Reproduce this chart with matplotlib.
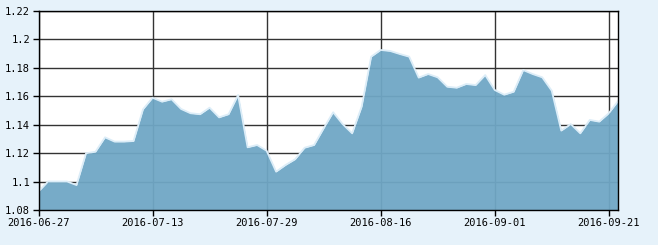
import matplotlib
matplotlib.use("Agg")
import matplotlib.pyplot as plt

dates = [
    "2016-06-27", "2016-06-28", "2016-06-29", "2016-06-30",
    "2016-07-01", "2016-07-04", "2016-07-05", "2016-07-06", "2016-07-07", "2016-07-08",
    "2016-07-11", "2016-07-12", "2016-07-13", "2016-07-14", "2016-07-15",
    "2016-07-18", "2016-07-19", "2016-07-20", "2016-07-21", "2016-07-22",
    "2016-07-25", "2016-07-26", "2016-07-27", "2016-07-28", "2016-07-29",
    "2016-08-01", "2016-08-02", "2016-08-03", "2016-08-04", "2016-08-05",
    "2016-08-08", "2016-08-09", "2016-08-10", "2016-08-11", "2016-08-12",
    "2016-08-15", "2016-08-16", "2016-08-17", "2016-08-18", "2016-08-19",
    "2016-08-22", "2016-08-23", "2016-08-24", "2016-08-25", "2016-08-26",
    "2016-08-29", "2016-08-30", "2016-08-31", "2016-09-01", "2016-09-02",
    "2016-09-05", "2016-09-06", "2016-09-07", "2016-09-08", "2016-09-09",
    "2016-09-12", "2016-09-13", "2016-09-14", "2016-09-19", "2016-09-20",
    "2016-09-21", "2016-09-22",
]

values = [
    1.093, 1.100, 1.100, 1.100, 1.0975, 1.1198, 1.1209, 1.131, 1.128, 1.128,
    1.1284, 1.1507, 1.1588, 1.156, 1.1577, 1.1509, 1.1479, 1.1472, 1.1518, 1.145,
    1.1472, 1.1607, 1.124, 1.1256, 1.1216, 1.1069, 1.1116, 1.1156, 1.1237, 1.1256,
    1.1373, 1.1486, 1.1403, 1.1338, 1.1525, 1.1876, 1.1923, 1.1916, 1.1895, 1.1876,
    1.1729, 1.1754, 1.1731, 1.1665, 1.1658, 1.1684, 1.1677, 1.1747, 1.1642, 1.1609,
    1.163, 1.1782, 1.1754, 1.1731, 1.1637, 1.1357, 1.1403, 1.1338, 1.1432, 1.142,
    1.1479, 1.1567,
]

y_ticks = [1.08, 1.10, 1.12, 1.14, 1.16, 1.18, 1.20, 1.22]
y_tick_labels = ["1.08", "1.1", "1.12", "1.14", "1.16", "1.18", "1.2", "1.22"]
x_tick_labels = ["2016-06-27", "2016-07-13", "2016-07-29", "2016-08-16", "2016-09-01", "2016-09-21"]

plt.rcParams['font.family'] = ['DejaVu Sans Mono']

fig = plt.figure(figsize=(6.58, 2.45), dpi=100)
fig.patch.set_facecolor('#e6f2fa')
ax = fig.add_axes([38.5 / 658, 35 / 245, (618.3 - 38.5) / 658, 199.5 / 245])
ax.set_facecolor('white')

x = list(range(len(values)))
x_tick_pos = [dates.index(d) for d in x_tick_labels]

for yt in y_ticks:
    ax.axhline(yt, color='#333333', lw=1.0, zorder=1)
for xt in x_tick_pos:
    ax.axvline(xt, color='#333333', lw=1.0, zorder=1)

ax.fill_between(x, values, y_ticks[0], color='#70a7c5', alpha=0.95, lw=0, zorder=2)
ax.plot(x, values, color='#dcedf8', lw=1.3, zorder=3)

ax.set_xlim(0, len(values) - 1)
ax.set_ylim(y_ticks[0], y_ticks[-1])
ax.set_yticks(y_ticks)
ax.set_yticklabels(y_tick_labels)
ax.set_xticks(x_tick_pos)
ax.set_xticklabels(x_tick_labels)
ax.tick_params(axis='both', direction='out', length=4, width=1, color='black',
               labelsize=7.5, labelcolor='black', pad=2)
for s in ax.spines.values():
    s.set_color('black')
    s.set_linewidth(1.0)
    s.set_zorder(4)

fig.savefig('out.png', dpi=100, facecolor=fig.get_facecolor())
